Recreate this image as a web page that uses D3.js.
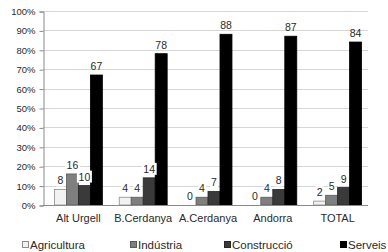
<!DOCTYPE html>
<html>
<head>
<meta charset="utf-8">
<script src="https://cdn.jsdelivr.net/npm/d3@7"></script>
<style>
  body { margin: 0; background: #fff; }
  svg { display: block; font-family: "Liberation Sans", Arial, sans-serif; }
</style>
</head>
<body>
<div id="chart"></div>
<script>
var categories = ["Alt Urgell", "B.Cerdanya", "A.Cerdanya", "Andorra", "TOTAL"];
var seriesNames = ["Agricultura", "Indústria", "Construcció", "Serveis"];
var agricultura = [8, 4, 0, 0, 2];
var industria = [16, 4, 4, 4, 5];
var construccio = [10, 14, 7, 8, 9];
var serveis = [67, 78, 88, 87, 84];
var yTicks = [0, 10, 20, 30, 40, 50, 60, 70, 80, 90, 100];

var fills = ["#f2f2f2", "#7f7f7f", "#3a3a3a", "#000000"];
var strokes = ["#8c8c8c", "#5a5a5a", "#262626", "#000000"];

var W = 388, H = 252;
var plotLeft = 43, plotRight = 368, plotTop = 11, plotBottom = 205;

var svg = d3.select("#chart").append("svg")
	.attr("width", W).attr("height", H);

var values = [agricultura, industria, construccio, serveis];
var data = [];
categories.forEach(function(c, i){
	seriesNames.forEach(function(s, j){
		data.push({ cat: c, s: s, j: j, v: values[j][i] });
	});
});

var x0 = d3.scaleBand().domain(categories).range([46, 370])
	.paddingInner(0.26).paddingOuter(0.13);
var x1 = d3.scaleBand().domain(seriesNames).range([0, x0.bandwidth()]);
var y = d3.scaleLinear().domain([0, 100]).range([plotBottom, plotTop]);

// gridlines
svg.selectAll(".grid").data(yTicks).enter().append("line")
	.attr("class", "grid")
	.attr("x1", plotLeft).attr("x2", plotRight)
	.attr("y1", function(d){ return Math.round(y(d)) + 0.5; })
	.attr("y2", function(d){ return Math.round(y(d)) + 0.5; })
	.style("stroke", "#d6d6d6").style("stroke-width", 1);

// y axis
var yAxis = svg.append("g").attr("transform", "translate(" + (plotLeft + 0.5) + ",0.5)")
	.call(d3.axisLeft(y).tickValues(yTicks).tickSize(4).tickFormat(function(d){ return d + "%"; }));
yAxis.select(".domain").style("stroke", "#8a8a8a");
yAxis.selectAll(".tick line").style("stroke", "#8a8a8a");
yAxis.selectAll(".tick text").attr("x", -8)
	.style("font-size", "9.5px").style("fill", "#2a2a2a")
	.style("font-family", "'Liberation Sans', Arial, sans-serif");

// bars
svg.selectAll(".bar").data(data).enter().append("rect")
	.attr("class", "bar")
	.attr("x", function(d){ return x0(d.cat) + x1(d.s); })
	.attr("y", function(d){ return y(d.v); })
	.attr("width", x1.bandwidth())
	.attr("height", function(d){ return plotBottom - y(d.v); })
	.style("fill", function(d){ return fills[d.j]; })
	.style("stroke", function(d){ return strokes[d.j]; })
	.style("stroke-width", 0.8);

// x axis baseline
svg.append("line")
	.attr("x1", plotLeft).attr("x2", plotRight)
	.attr("y1", plotBottom + 0.5).attr("y2", plotBottom + 0.5)
	.style("stroke", "#8a8a8a");

// value labels with white boxes
var lab = svg.selectAll(".vlab").data(data).enter().append("g")
	.attr("class", "vlab")
	.attr("transform", function(d){
		return "translate(" + (x0(d.cat) + x1(d.s) + x1.bandwidth() / 2) + "," + (y(d.v) - 5) + ")";
	});
lab.append("rect")
	.attr("x", function(d){ return String(d.v).length > 1 ? -7.5 : -4; })
	.attr("y", -10)
	.attr("width", function(d){ return String(d.v).length > 1 ? 15 : 8; })
	.attr("height", 12)
	.style("fill", function(d){ return d.j < 3 ? "#fff" : "none"; });
lab.append("text")
	.attr("text-anchor", "middle")
	.style("font-size", "10.5px").style("fill", "#2a2a2a")
	.text(function(d){ return d.v; });

// category labels
svg.selectAll(".clab").data(categories).enter().append("text")
	.attr("class", "clab")
	.attr("x", function(d){ return x0(d) + x0.bandwidth() / 2; })
	.attr("y", 222)
	.attr("text-anchor", "middle")
	.style("font-size", "11px").style("fill", "#2a2a2a")
	.text(function(d){ return d; });

// legend
var legX = [22, 130, 224, 340];
var leg = svg.selectAll(".leg").data(seriesNames).enter().append("g")
	.attr("class", "leg")
	.attr("transform", function(d, i){ return "translate(" + legX[i] + ",245)"; });
leg.append("rect")
	.attr("x", 0.5).attr("y", -3.5).attr("width", 6).attr("height", 6)
	.style("fill", function(d, i){ return fills[i]; })
	.style("stroke", function(d, i){ return strokes[i]; });
leg.append("text")
	.attr("x", 8).attr("y", 4)
	.style("font-size", "11.5px").style("fill", "#2a2a2a")
	.text(function(d){ return d; });
</script>
</body>
</html>
